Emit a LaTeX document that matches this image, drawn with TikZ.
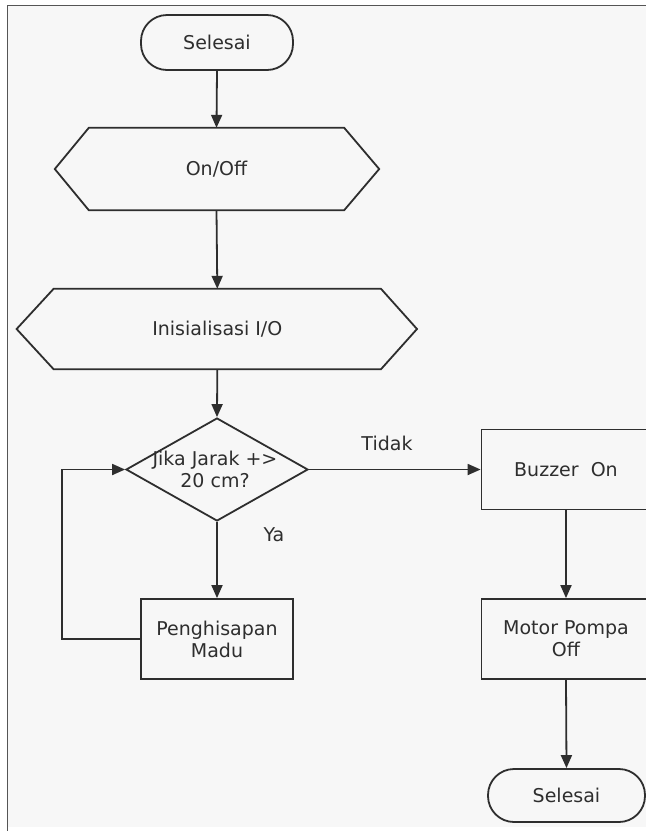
\documentclass[tikz,border=0pt]{standalone}
\usepackage{fontspec}
\setmainfont{DejaVu Sans}
\usetikzlibrary{shapes.geometric,arrows.meta,calc}
\definecolor{panel}{HTML}{F7F7F7}
\definecolor{ink}{HTML}{2E2E2E}
\definecolor{frame}{HTML}{555555}
\begin{document}
\begin{tikzpicture}[x=1pt,y=-1pt,
  every node/.style={font=\fontsize{19}{22}\selectfont, text=ink},
  line/.style={draw=ink, line width=1.8pt},
  arr/.style={line, -{Triangle[length=13pt,width=11pt]}},
  term/.style={line, rectangle, rounded corners=26pt, minimum width=152pt, minimum height=55pt, inner sep=0pt},
  procbox/.style={line, rectangle, minimum width=152pt, minimum height=80pt, inner sep=0pt, align=center},
  hexbox/.style={rectangle, inner sep=0pt},
  decision/.style={line, diamond, minimum width=182pt, minimum height=103pt, inner sep=0pt},
  lbl/.style={inner sep=0pt}
]
\useasboundingbox (0,0) rectangle (646,831);
\clip (0,0) rectangle (646,831);
\fill[white] (0,0) rectangle (646,831);
\fill[panel] (7.5,5.5) rectangle (660,827);
\draw[frame, line width=1.5pt] (7.5,831) -- (7.5,5.5) -- (646,5.5);

% nodes
\node[term] (start) at (217,42.5) {Selesai};
\node[hexbox, minimum width=255pt, minimum height=82pt] (onoff) at (216.5,169) {On/Off};
\draw[line, line join=miter] (onoff.north west) -- (onoff.north east) -- ([xshift=35pt]onoff.east) -- (onoff.south east) -- (onoff.south west) -- ([xshift=-34pt]onoff.west) -- cycle;
\node[hexbox, minimum width=327pt, minimum height=80pt] (init) at (217.3,329) {Inisialisasi I/O};
\draw[line, line join=miter] (init.north west) -- (init.north east) -- ([xshift=36pt]init.east) -- (init.south east) -- (init.south west) -- ([xshift=-37pt]init.west) -- cycle;
\node[decision] (dia) at (217,469.5) {};
\node[lbl, align=center] (diatext) at (215,469) {Jika Jarak +>\\20 cm?};
\node[procbox] (peng) at (217,639) {Penghisapan\\Madu};
\node[procbox, minimum width=169pt] (buz) at (566,469.5) {Buzzer\ \ On};
\node[procbox, minimum width=169pt] (motor) at (566,639) {Motor Pompa\\Off};
\node[term, minimum width=157pt, minimum height=53pt] (stop) at (566.5,795.5) {Selesai};

\node[lbl] (tidak) at (387,443) {Tidak};
\node[lbl] (ya) at (274,535) {Ya};

\coordinate (lp1) at (62,639);

% connectors
\draw[arr] (start.south) -- (onoff.north);
\draw[arr] (onoff.south) -- (init.north);
\draw[arr] (init.south) -- (dia.north);
\draw[arr] (dia.south) -- (peng.north);
\draw[arr] (peng.west) -- (lp1) |- (dia.west);
\draw[arr] (dia.east) -- (buz.west);
\draw[arr] (buz.south) -- (motor.north);
\draw[arr] (motor.south) -- (stop.north);
\end{tikzpicture}
\end{document}
